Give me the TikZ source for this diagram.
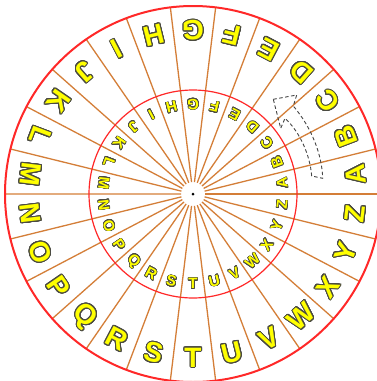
\documentclass[tikz,border=0pt]{standalone}
\usepackage{fontspec}
\setmainfont{Liberation Sans}
\usepackage[copies]{contour}
\contournumber{24}
\definecolor{wheelred}{RGB}{255,40,40}
\definecolor{spokecol}{RGB}{212,126,56}
\definecolor{ltryellow}{RGB}{255,255,0}
\definecolor{ltredge}{RGB}{75,75,65}
\definecolor{arrowcol}{RGB}{70,70,70}
\begin{document}
\begin{tikzpicture}[x=1pt,y=1pt,
  bigltr/.style={font=\fontsize{28}{28}\selectfont\bfseries, inner sep=0pt},
  smallltr/.style={font=\fontsize{15}{15}\selectfont\bfseries, inner sep=0pt},
  spokeline/.style={draw=spokecol, line width=1.3pt},
  ringline/.style={draw=wheelred},
  turnarrow/.style={draw=arrowcol, line width=0.9pt, dash pattern=on 3.5pt off 2.5pt}]
\useasboundingbox (0,0) rectangle (377,-381);
\fill[white] (0,0) rectangle (377,-381);
\coordinate (c) at (193,-194);
\begin{scope}[shift={(c)}]
  \foreach \k in {0,...,25} {
    \draw[spokeline] ({\k*13.846}:12) -- ({\k*13.846}:188);
  }
  \draw[ringline, line width=1.2pt] (0,0) circle (104);
  \draw[ringline, line width=2pt] (0,0) circle (188);
  \fill[white] (0,0) circle (11);
  \fill[black] (0,0) circle (1.5);
  \foreach \l [count=\k from 0] in {A,...,Z} {
    \node[bigltr, rotate={6.923+13.846*\k+90}] (o\k) at ({6.923+13.846*\k}:164)
      {\contourlength{1.0pt}\contour{ltredge}{\textcolor{ltryellow}{\l}}};
    \node[smallltr, rotate={6.923+13.846*\k+90}] (i\k) at ({6.923+13.846*\k}:90)
      {\contourlength{0.6pt}\contour{ltredge}{\textcolor{ltryellow}{\l}}};
  }
\end{scope}
\draw[turnarrow] (273.3,-99.3) -- (296.7,-95) -- (293.3,-106)
  .. controls (312,-128) and (322,-155) .. (322.7,-178.3)
  -- (311.7,-176)
  .. controls (310,-155) and (300,-132) .. (285,-118.3)
  -- (280.7,-128.3) -- cycle;
\end{tikzpicture}
\end{document}
